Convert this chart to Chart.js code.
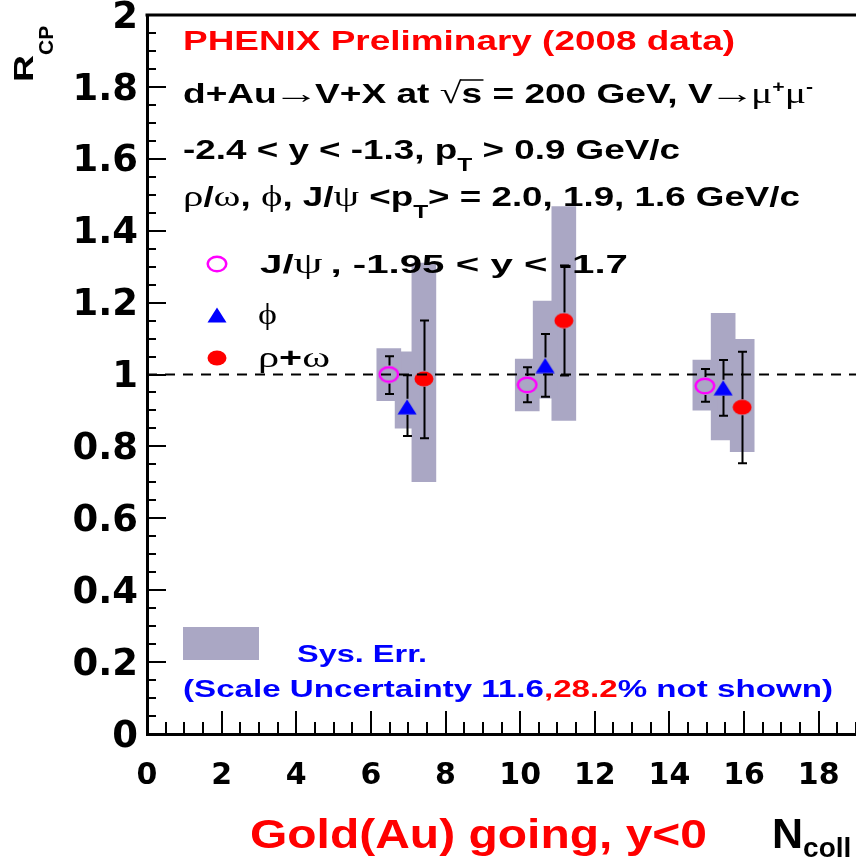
<!DOCTYPE html>
<html>
<head>
<meta charset="utf-8">
<script src="https://cdn.jsdelivr.net/npm/chart.js@4"></script>
<style>
  html, body { margin: 0; padding: 0; background: #fff; overflow: hidden; }
  canvas { display: block; }
</style>
</head>
<body>
<canvas id="rcp" width="856" height="861"></canvas>
<script>
// R_CP versus N_coll in d+Au at 200 GeV, Au-going rapidity (-2.4 < y < -1.3)

// J/psi (-1.95 < y < -1.7)
const jpsiNcoll   = [6.48, 10.19, 14.95];
const jpsiRcp     = [1.000, 0.971, 0.968];
const jpsiStatLo  = [0.946, 0.923, 0.924];
const jpsiStatHi  = [1.051, 1.020, 1.015];
const jpsiSysLo   = [0.927, 0.899, 0.901];
const jpsiSysHi   = [1.072, 1.043, 1.040];

// phi
const phiNcoll    = [6.97, 10.67, 15.44];
const phiRcp      = [0.910, 1.025, 0.963];
const phiStatLo   = [0.829, 0.938, 0.885];
const phiStatHi   = [0.998, 1.113, 1.040];
const phiSysLo    = [0.851, 0.934, 0.818];
const phiSysHi    = [1.063, 1.204, 1.170];

// rho + omega
const rhoNcoll    = [7.42, 11.17, 15.95];
const rhoRcp      = [0.988, 1.150, 0.909];
const rhoStatLo   = [0.823, 0.997, 0.753];
const rhoStatHi   = [1.150, 1.303, 1.063];
const rhoSysLo    = [0.702, 0.872, 0.785];
const rhoSysHi    = [1.310, 1.467, 1.098];

// axes
const xTickValues = [0, 2, 4, 6, 8, 10, 12, 14, 16, 18];
const xTickLabels = ['0', '2', '4', '6', '8', '10', '12', '14', '16', '18'];
const yTickValues = [0, 0.2, 0.4, 0.6, 0.8, 1, 1.2, 1.4, 1.6, 1.8, 2];
const yTickLabels = ['0', '0.2', '0.4', '0.6', '0.8', '1', '1.2', '1.4', '1.6', '1.8', '2'];
const unityLevel  = 1;

const X_MIN = 0, X_MAX = 19, Y_MIN = 0, Y_MAX = 2;
const PLOT = { left: 147, top: 15, right: 856, bottom: 734 };

const SYS_FILL = '#aaa7c4';
const SANS  = "'Liberation Sans', Arial, Helvetica, sans-serif";
const SERIF = "'Liberation Serif', 'DejaVu Serif', serif";
const B = px => `bold ${px}px ${SANS}`;
const S = px => `${px}px ${SERIF}`;

// ---- marker sprites ----
function ellipseSprite(w, h, stroke, fill, lw) {
  const c = document.createElement('canvas');
  c.width = w; c.height = h;
  const g = c.getContext('2d');
  g.beginPath();
  g.ellipse(w / 2, h / 2, w / 2 - (lw || 0) / 2 - 0.5, h / 2 - (lw || 0) / 2 - 0.5, 0, 0, Math.PI * 2);
  if (fill) { g.fillStyle = fill; g.fill(); }
  if (stroke) { g.lineWidth = lw; g.strokeStyle = stroke; g.stroke(); }
  return c;
}
function triangleSprite(w, h, fill) {
  const c = document.createElement('canvas');
  c.width = w; c.height = h;
  const g = c.getContext('2d');
  g.beginPath();
  g.moveTo(w / 2, 0.5);
  g.lineTo(w - 0.5, h - 0.5);
  g.lineTo(0.5, h - 0.5);
  g.closePath();
  g.fillStyle = fill; g.fill();
  return c;
}
const jpsiMarker = ellipseSprite(22, 18, '#ff00ff', null, 2.5);
const phiMarker  = triangleSprite(20, 16, '#0000ff');
const rhoMarker  = ellipseSprite(20, 16, null, '#ff0000', 0);

const pts = (xs, ys) => xs.map((x, i) => ({ x, y: ys[i] }));
const bands = (xs, lo, hi) => xs.map((x, i) => ({ x, y: [lo[i], hi[i]] }));

// ---- text with mixed fonts, optionally squeezed/stretched to a width ----
function drawRich(ctx, o, runs) {
  ctx.save();
  let total = 0;
  for (const r of runs) {
    ctx.font = r.f;
    r.w = ctx.measureText(r.t).width * (r.sx || 1);
    total += r.w + (r.gap || 0);
  }
  const k = o.fit ? o.fit / total : 1;
  ctx.translate(o.x, o.y);
  if (o.rot) ctx.rotate(o.rot);
  ctx.scale(k, 1);
  ctx.textAlign = 'left';
  ctx.textBaseline = 'alphabetic';
  let cx = 0;
  for (const r of runs) {
    cx += r.gap || 0;
    const col = r.c || o.c || '#000';
    ctx.save();
    ctx.translate(cx, r.dy || 0);
    ctx.scale(r.sx || 1, 1);
    ctx.font = r.f;
    ctx.fillStyle = col;
    ctx.fillText(r.t, 0, 0);
    ctx.restore();
    if (r.over !== undefined) {
      ctx.strokeStyle = col; ctx.lineWidth = 1.5;
      ctx.beginPath(); ctx.moveTo(cx - 1, r.over); ctx.lineTo(cx + r.w + 1, r.over); ctx.stroke();
    }
    cx += r.w;
  }
  ctx.restore();
}

// ---- inward ROOT-style ticks and top frame ----
const frameTicks = {
  id: 'frameTicks',
  beforeDatasetsDraw(chart) {
    const { ctx, chartArea: a, scales: { x, y } } = chart;
    ctx.save();
    ctx.strokeStyle = '#000';
    ctx.lineWidth = 2;
    ctx.beginPath();
    for (let i = 0; i * 0.5 <= X_MAX + 1e-9; i++) {
      const px = Math.round(x.getPixelForValue(i * 0.5));
      const len = i % 4 === 0 ? 23 : 12;
      ctx.moveTo(px, a.bottom); ctx.lineTo(px, a.bottom - len);
    }
    for (let i = 0; i * 0.05 <= Y_MAX + 1e-9; i++) {
      const py = Math.round(y.getPixelForValue(i * 0.05));
      const len = i % 4 === 0 ? 19 : 9;
      ctx.moveTo(a.left, py); ctx.lineTo(a.left + len, py);
    }
    ctx.stroke();
    ctx.lineWidth = 3;
    ctx.beginPath(); ctx.moveTo(a.left - 1.5, a.top); ctx.lineTo(a.right, a.top); ctx.stroke();
    ctx.restore();
  }
};

// ---- statistical error bars, drawn just before each marker set ----
const statBars = {
  id: 'statBars',
  beforeDatasetDraw(chart, args) {
    const ds = chart.data.datasets[args.index];
    if (!ds.statLo) return;
    const { ctx, scales: { x, y } } = chart;
    ctx.save();
    ctx.strokeStyle = '#000';
    ctx.lineWidth = 2;
    ctx.beginPath();
    ds.data.forEach((p, i) => {
      const px = Math.round(x.getPixelForValue(p.x)) + 0.5;
      const pc = y.getPixelForValue(p.y);
      const ph = y.getPixelForValue(ds.statHi[i]);
      const pl = y.getPixelForValue(ds.statLo[i]);
      const g = ds.markerGap;
      if (ph < pc - g) { ctx.moveTo(px, pc - g); ctx.lineTo(px, ph); }
      if (pl > pc + g) { ctx.moveTo(px, pc + g); ctx.lineTo(px, pl); }
      ctx.moveTo(px - 4.5, ph); ctx.lineTo(px + 4.5, ph);
      ctx.moveTo(px - 4.5, pl); ctx.lineTo(px + 4.5, pl);
    });
    ctx.stroke();
    ctx.restore();
  }
};

// ---- legend and annotations ----
const annotations = {
  id: 'annotations',
  afterDraw(chart) {
    const ctx = chart.ctx;
    const blue = '#0000ff', red = '#ff0000';
    const arrow = () => ({ t: '\u2192', f: S(28), sx: 1.25, gap: -3 });

    drawRich(ctx, { x: 183, y: 50, fit: 552, c: red }, [
      { t: 'PHENIX Preliminary (2008 data)', f: B(27) }
    ]);
    drawRich(ctx, { x: 183, y: 103, fit: 630 }, [
      { t: 'd+Au', f: B(28) },
      arrow(),
      { t: 'V+X at ', f: B(28), gap: -3 },
      { t: '\u221A', f: S(30) },
      { t: 's', f: B(28), over: -23 },
      { t: ' = 200 GeV, V', f: B(28) },
      arrow(),
      { t: '\u03BC', f: S(30), gap: -3 },
      { t: '+', f: B(16), dy: -11 },
      { t: '\u03BC', f: S(30) },
      { t: '-', f: B(16), dy: -11 }
    ]);
    drawRich(ctx, { x: 183, y: 159, fit: 497 }, [
      { t: '-2.4 < y < -1.3, p', f: B(27) },
      { t: 'T', f: B(18), dy: 12 },
      { t: ' > 0.9 GeV/c', f: B(27) }
    ]);
    drawRich(ctx, { x: 183, y: 206, fit: 617 }, [
      { t: '\u03C1', f: S(30) },
      { t: '/', f: B(27) },
      { t: '\u03C9', f: S(30) },
      { t: ', ', f: B(27) },
      { t: '\u03D5', f: S(30) },
      { t: ', J/', f: B(27) },
      { t: '\u03C8', f: S(30) },
      { t: ' <p', f: B(27) },
      { t: 'T', f: B(18), dy: 12 },
      { t: '> = 2.0, 1.9, 1.6 GeV/c', f: B(27) }
    ]);

    // legend entries
    const sprite = (m, cx, cy) => ctx.drawImage(m, Math.round(cx - m.width / 2), Math.round(cy - m.height / 2));
    sprite(jpsiMarker, 217, 264);
    sprite(phiMarker, 217, 315);
    sprite(rhoMarker, 217, 358);
    drawRich(ctx, { x: 260, y: 273, fit: 368 }, [
      { t: 'J/', f: B(26) },
      { t: '\u03C8', f: S(30) },
      { t: ', -1.95 < y < -1.7', f: B(26), gap: 5 }
    ]);
    drawRich(ctx, { x: 258, y: 324 }, [{ t: '\u03D5', f: S(30), sx: 1.2 }]);
    drawRich(ctx, { x: 258, y: 367, fit: 72 }, [
      { t: '\u03C1', f: S(30) },
      { t: '+', f: B(28) },
      { t: '\u03C9', f: S(30) }
    ]);

    // systematic-error key
    ctx.save();
    ctx.fillStyle = SYS_FILL;
    ctx.fillRect(183, 627, 76, 33);
    ctx.restore();
    drawRich(ctx, { x: 297, y: 662, fit: 130, c: blue }, [{ t: 'Sys. Err.', f: B(24) }]);
    drawRich(ctx, { x: 183, y: 697, fit: 650, c: blue }, [
      { t: '(Scale Uncertainty 11.6', f: B(23) },
      { t: ',28.2', f: B(23), c: red },
      { t: '% not shown)', f: B(23) }
    ]);

    // axis titles
    drawRich(ctx, { x: 250, y: 848, fit: 457, c: red }, [{ t: 'Gold(Au) going, y<0', f: B(40) }]);
    drawRich(ctx, { x: 772, y: 848 }, [
      { t: 'N', f: B(43) },
      { t: 'coll', f: B(28), dy: 9 }
    ]);
    drawRich(ctx, { x: 33, y: 82, rot: -Math.PI / 2 }, [
      { t: 'R', f: B(28), sx: 1.34 },
      { t: 'CP', f: B(21), dy: 20 }
    ]);
  }
};

const chart = new Chart(document.getElementById('rcp'), {
  type: 'scatter',
  data: {
    datasets: [
      { type: 'bar', label: 'J/psi sys', data: bands(jpsiNcoll, jpsiSysLo, jpsiSysHi),
        backgroundColor: SYS_FILL, borderWidth: 0, barThickness: 24, grouped: false, order: 5 },
      { type: 'bar', label: 'phi sys', data: bands(phiNcoll, phiSysLo, phiSysHi),
        backgroundColor: SYS_FILL, borderWidth: 0, barThickness: 24, grouped: false, order: 5 },
      { type: 'bar', label: 'rho sys', data: bands(rhoNcoll, rhoSysLo, rhoSysHi),
        backgroundColor: SYS_FILL, borderWidth: 0, barThickness: 24, grouped: false, order: 5 },
      { type: 'scatter', label: 'J/\u03C8', data: pts(jpsiNcoll, jpsiRcp),
        pointStyle: jpsiMarker, pointRadius: 10, statLo: jpsiStatLo, statHi: jpsiStatHi, markerGap: 9, order: 2 },
      { type: 'scatter', label: '\u03D5', data: pts(phiNcoll, phiRcp),
        pointStyle: phiMarker, pointRadius: 10, statLo: phiStatLo, statHi: phiStatHi, markerGap: 8, order: 2 },
      { type: 'scatter', label: '\u03C1+\u03C9', data: pts(rhoNcoll, rhoRcp),
        pointStyle: rhoMarker, pointRadius: 10, statLo: rhoStatLo, statHi: rhoStatHi, markerGap: 8, order: 2 },
      { type: 'line', label: 'unity', data: [{ x: X_MIN, y: unityLevel }, { x: X_MAX, y: unityLevel }],
        borderColor: '#000', borderWidth: 2, borderDash: [10, 8], pointRadius: 0, fill: false, order: 0 }
    ]
  },
  options: {
    responsive: false,
    animation: false,
    events: [],
    devicePixelRatio: 1,
    layout: { autoPadding: false, padding: { top: PLOT.top, left: 0, right: 0, bottom: 0 } },
    plugins: { legend: { display: false }, tooltip: { enabled: false } },
    scales: {
      x: {
        type: 'linear', min: X_MIN, max: X_MAX, offset: false,
        grid: { display: false, drawTicks: false, offset: false },
        border: { display: true, width: 3, color: '#000' },
        afterBuildTicks: s => { s.ticks = xTickValues.map(v => ({ value: v })); },
        afterFit: s => { s.height = 861 - PLOT.bottom; s.paddingLeft = 0; s.paddingRight = 0; },
        ticks: {
          autoSkip: false, maxRotation: 0, padding: 24, color: '#000',
          font: { family: "'DejaVu Sans', sans-serif", weight: 'bold', size: 30 },
          callback: v => xTickLabels[xTickValues.indexOf(v)]
        }
      },
      y: {
        type: 'linear', min: Y_MIN, max: Y_MAX,
        grid: { display: false, drawTicks: false },
        border: { display: true, width: 3, color: '#000' },
        afterBuildTicks: s => { s.ticks = yTickValues.map(v => ({ value: v })); },
        afterFit: s => { s.width = PLOT.left; s.paddingTop = 0; s.paddingBottom = 0; },
        ticks: {
          autoSkip: false, padding: 9, color: '#000', labelOffset: 3,
          font: { family: "'DejaVu Sans', sans-serif", weight: 'bold', size: 37 },
          callback: v => yTickLabels[yTickValues.indexOf(v)]
        }
      }
    }
  },
  plugins: [frameTicks, statBars, annotations]
});
</script>
</body>
</html>
